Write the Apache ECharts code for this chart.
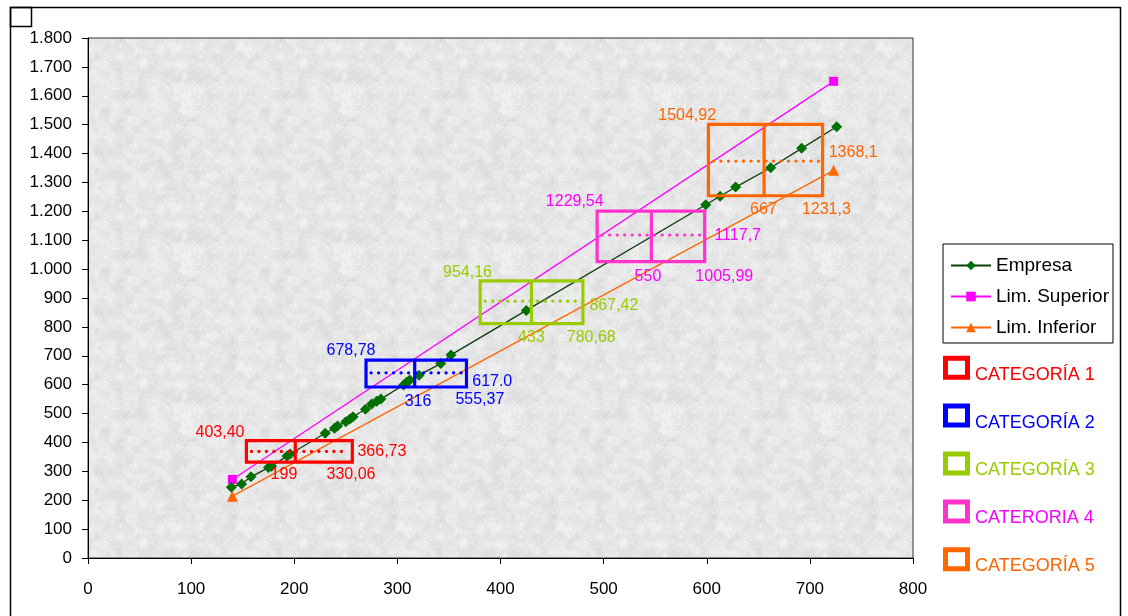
<!DOCTYPE html>
<html><head><meta charset="utf-8">
<script src="https://cdn.jsdelivr.net/npm/echarts@6/dist/echarts.min.js"></script>
<style>html,body{margin:0;padding:0;background:#fff}#c{width:1128px;height:616px}</style>
</head><body><div id="c"></div>
<script>
// ---- data ----
const empresaX = [139,149,158,175,178,193,196,230,239,242,250,254,257,269,275,280,284,306,309,312,321,342,352,425,599,613,628,662,692,726];
const empresaY = [245,256,281,313,318,353,360,432,449,457,472,481,489,515,533,543,550,599,608,616,633,673,703,857,1223,1252,1284,1351,1418,1493];
const supX = [140,723];
const supY = [272,1650];
const infX = [140,723];
const infY = [214,1342];

const catNames = ['CATEGORÍA 1','CATEGORÍA 2','CATEGORÍA 3','CATERORIA 4','CATEGORÍA 5'];
const catColors = ['#FF0000','#0000FF','#99CC00','#FF33CC','#FF6600'];
const catTextColors = ['#FF0000','#0000FF','#99CC00','#FF00FF','#FF6600'];
const boxLeft  = [153.6,269.6,380.3,493.7,601.6];
const boxRight = [256.3,367.0,479.9,598.0,712.3];
const boxDiv   = [201.0,316.8,430.0,546.3,655.6];
const boxTop   = [406,685,959,1201,1501];
const boxBottom= [332,592,811,1026,1254];
const boxMid   = [369,641,889,1118,1374];

const labelText = ['403,40','366,73','199','330,06',
                   '678,78','617.0','316','555,37',
                   '954,16','867,42','433','780,68',
                   '1229,54','1117,7','550','1005,99',
                   '1504,92','1368,1','667','1231,3'];
const labelX = [128,285,190,255, 255,392,320,380, 368,510,430,488, 472,630,543,617, 581,742,655,716];
const labelY = [433,370,287,287, 717,609,543,550, 988,872,763,763, 1232,1115,973,973, 1530,1404,1205,1205];
const labelCat = [0,0,0,0, 1,1,1,1, 2,2,2,2, 3,3,3,3, 4,4,4,4];

const xTicks = {min:0, max:800, interval:100};
const yTicks = {min:0, max:1800, interval:100};
// -------------------------------------

const FONT = 'Liberation Sans, Arial, sans-serif';

// deterministic granite-like texture for the plot background
function makeTexture(){
  const W=160,H=160;
  const cv=document.createElement('canvas'); cv.width=W; cv.height=H;
  const ctx=cv.getContext('2d');
  const img=ctx.createImageData(W,H);
  function h(x,y){ let n=(x*374761393 + y*668265263)|0; n=(n^(n>>>13))*1274126177|0; n=n^(n>>>16); return ((n>>>0)%1000)/1000; }
  function smooth(x,y,s){
    const x0=Math.floor(x/s), y0=Math.floor(y/s), fx=x/s-x0, fy=y/s-y0;
    const n=W/s;
    const a=h(x0%n,y0%n), b=h((x0+1)%n,y0%n), c=h(x0%n,(y0+1)%n), d=h((x0+1)%n,(y0+1)%n);
    return (a*(1-fx)+b*fx)*(1-fy)+(c*(1-fx)+d*fx)*fy;
  }
  for(let y=0;y<H;y++)for(let x=0;x<W;x++){
    const v = 230 + (smooth(x,y,8)-0.5)*16 + (smooth(x,y,4)-0.5)*10 + (h(x+7,y+13)-0.5)*14;
    const g=Math.max(0,Math.min(255,Math.round(v)));
    const k=(y*W+x)*4; img.data[k]=g; img.data[k+1]=g; img.data[k+2]=g; img.data[k+3]=255;
  }
  ctx.putImageData(img,0,0);
  return cv;
}

const chart = echarts.init(document.getElementById('c'));

function zip(a,b){return a.map((v,i)=>[v,b[i]]);}
function fmtY(v){ if(v>=1000){ return Math.floor(v/1000)+'.'+String(v%1000).padStart(3,'0'); } return String(v); }

const boxData = boxLeft.map((v,i)=>[boxLeft[i],boxRight[i],boxDiv[i],boxTop[i],boxBottom[i],boxMid[i],i]);
const lblData = labelX.map((v,i)=>[labelX[i],labelY[i],i]);

const catGraphics = [];
catNames.forEach((n,i)=>{
  const cy = 367.7 + i*47.9;
  catGraphics.push({type:'rect', left:945.5-2.5, top:cy-9.5-2.5,
    shape:{x:0,y:0,width:22,height:19},
    style:{fill:'#fff', stroke:catColors[i], lineWidth:5}, silent:true});
  catGraphics.push({type:'text', left:975, top:cy+8-10,
    style:{text:n, fill:catTextColors[i], font:'18px '+FONT}});
});

const option = {
  animation:false,
  backgroundColor:'#fff',
  textStyle:{fontFamily:FONT},
  grid:{left:88, top:38, right:215, bottom:58, show:true, backgroundColor:{image:makeTexture(), repeat:'repeat'}, borderColor:'#333', borderWidth:1},
  xAxis:{type:'value', min:xTicks.min, max:xTicks.max, interval:xTicks.interval,
    axisLine:{show:true, onZero:false, lineStyle:{color:'#000'}},
    axisTick:{show:true, length:6, lineStyle:{color:'#000'}},
    axisLabel:{color:'#000', fontSize:17, margin:23, fontFamily:FONT},
    splitLine:{show:false}},
  yAxis:{type:'value', min:yTicks.min, max:yTicks.max, interval:yTicks.interval,
    axisLine:{show:true, onZero:false, lineStyle:{color:'#000'}},
    axisTick:{show:true, length:6, lineStyle:{color:'#000'}},
    axisLabel:{color:'#000', fontSize:17, margin:16, fontFamily:FONT, formatter:fmtY},
    splitLine:{show:false}},
  legend:{data:['Empresa','Lim. Superior','Lim. Inferior'], orient:'vertical',
    left:943, top:244, itemWidth:40, itemHeight:12, itemGap:12,
    padding:[12,4,6,7], borderColor:'#000', borderWidth:1, backgroundColor:'#fff',
    textStyle:{color:'#000', fontSize:19, fontFamily:FONT}},
  graphic:[
    {type:'rect', left:8, top:5, shape:{x:0,y:0,width:1110,height:620}, style:{fill:'none', stroke:'#000', lineWidth:1.5}, silent:true, z:100},
    {type:'rect', left:8, top:5, shape:{x:0,y:0,width:21,height:19}, style:{fill:'none', stroke:'#000', lineWidth:1.5}, silent:true, z:100}
  ].concat(catGraphics),
  series:[
    {name:'Lim. Superior', type:'line', data:zip(supX,supY), symbol:'rect', symbolSize:9,
      lineStyle:{color:'#FF00FF', width:1.3}, itemStyle:{color:'#FF00FF'}, z:2},
    {name:'Lim. Inferior', type:'line', data:zip(infX,infY), symbol:'triangle', symbolSize:11,
      lineStyle:{color:'#FF6600', width:1.3}, itemStyle:{color:'#FF6600'}, z:2},
    {name:'Empresa', type:'line', data:zip(empresaX,empresaY), symbol:'diamond', symbolSize:11,
      lineStyle:{color:'#0b3d0b', width:1.3}, itemStyle:{color:'#007000'}, z:3},
    {name:'boxes', type:'custom', data:boxData, z:5, encode:{x:[0,1,2], y:[3,4,5]},
      renderItem:function(params, api){
        const i = api.value(6);
        const tl = api.coord([api.value(0), api.value(3)]);
        const br = api.coord([api.value(1), api.value(4)]);
        const dx = api.coord([api.value(2), api.value(5)]);
        const c = catColors[i];
        return {type:'group', children:[
          {type:'line', shape:{x1:tl[0]+5, y1:dx[1], x2:br[0]-4, y2:dx[1]},
            style:{stroke:c, lineWidth:3.2, lineDash:[0.1,7.4], lineCap:'round'}},
          {type:'rect', shape:{x:tl[0], y:tl[1], width:br[0]-tl[0], height:br[1]-tl[1]},
            style:{fill:'none', stroke:c, lineWidth:3.2}},
          {type:'line', shape:{x1:dx[0], y1:tl[1], x2:dx[0], y2:br[1]},
            style:{stroke:c, lineWidth:3.2}}
        ]};
      }},
    {name:'labels', type:'custom', data:lblData, z:6, encode:{x:0, y:1},
      renderItem:function(params, api){
        const k = api.value(2);
        const p = api.coord([api.value(0), api.value(1)]);
        return {type:'text', x:p[0], y:p[1],
          style:{text:labelText[k], fill:catTextColors[labelCat[k]], font:'16px '+FONT, textAlign:'center', textVerticalAlign:'middle'}};
      }}
  ]
};
chart.setOption(option);
</script>
</body></html>
